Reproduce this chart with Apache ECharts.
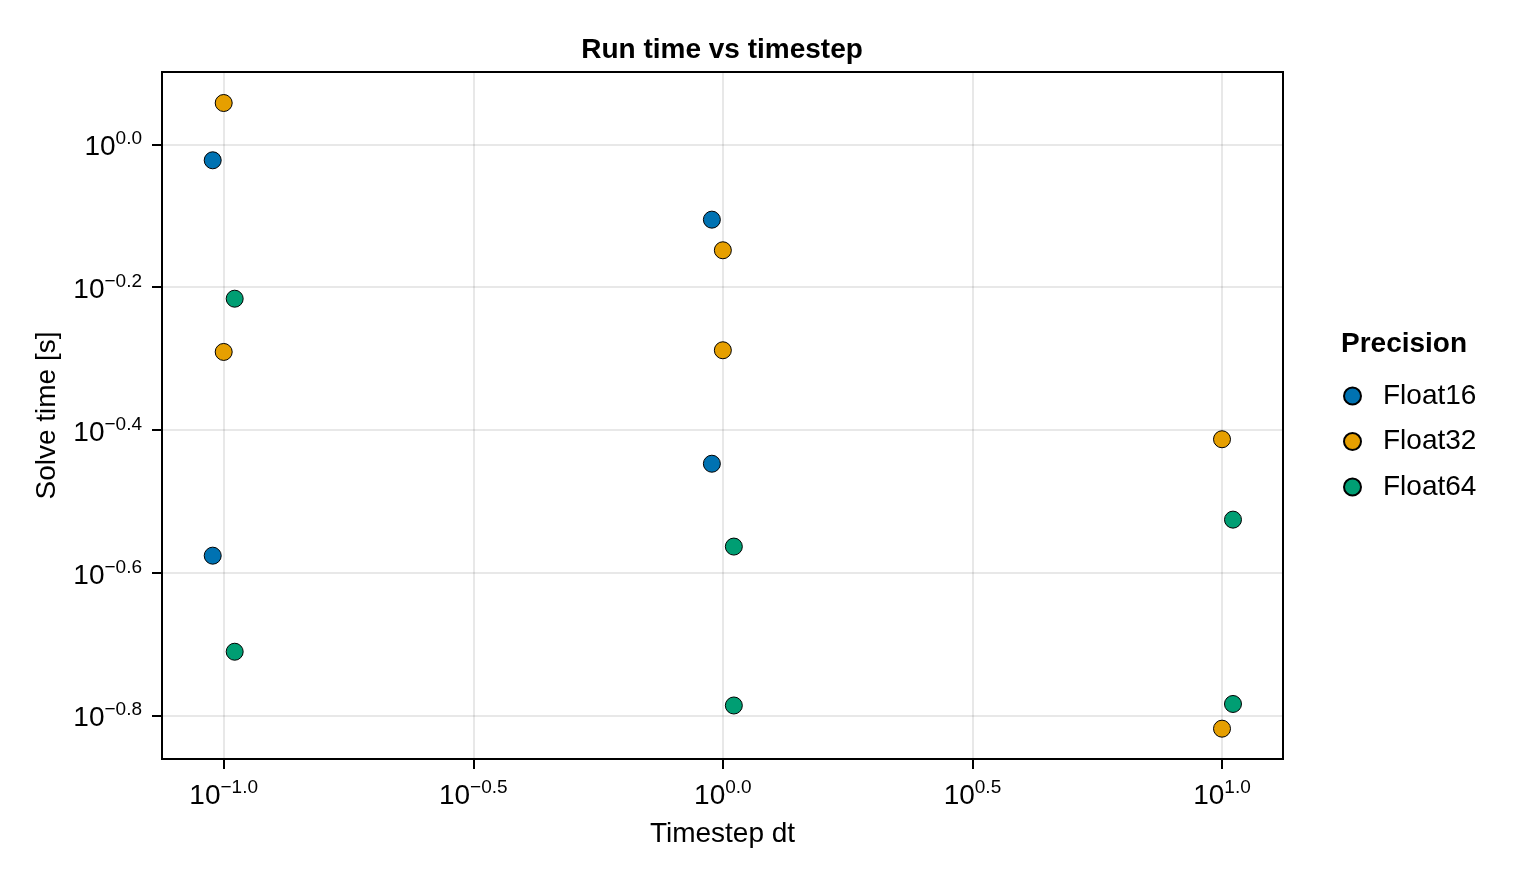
<!DOCTYPE html>
<html lang="en">
<head>
    <meta charset="UTF-8">
    <title>Run time vs timestep</title>
</head>
<body style="margin:0">
<div id="container" style="width: 1520px;height:880px;"></div>

<script src="https://cdn.jsdelivr.net/npm/echarts@6/dist/echarts.min.js"></script>
<script type="text/javascript">

// timestep values (s) and the read-off solve times, two runs per timestep
var timesteps = [0.1, 1, 10];
var float16Dt = [0.1, 0.1, 1, 1];
var float16Time = [0.9497, 0.2655, 0.7843, 0.3571];
var float32Dt = [0.1, 0.1, 1, 1, 10, 10];
var float32Time = [1.1423, 0.5120, 0.7106, 0.5148, 0.3864, 0.1520];
var float64Dt = [0.1, 0.1, 1, 1, 10, 10];
var float64Time = [0.6079, 0.1948, 0.2734, 0.1638, 0.2982, 0.1646];

var seriesNames = ['Float16', 'Float32', 'Float64'];
var xTickExp = [-1.0, -0.5, 0.0, 0.5, 1.0];
var yTickExp = [0.0, -0.2, -0.4, -0.6, -0.8];

var colors = ['#0072B2', '#E69F00', '#009E73'];
var font = 'Liberation Sans';

// dodge the groups sideways a little (in decades), like the original
var dodge = [-0.022, 0, 0.022];

function pairs(dt, t, k) {
  var out = [];
  for (var i = 0; i < dt.length; i++) {
    out.push([dt[i] * Math.pow(10, dodge[k]), t[i]]);
  }
  return out;
}

// 10^x style tick labels
function powLabel(v) {
  var e = Math.log10(v);
  if (Math.abs(e) < 1e-9) e = 0;
  var s = (e < 0 ? '\u2212' : '') + Math.abs(e).toFixed(1);
  return '{b|10}{s|' + s + '}';
}

var labelRich = {
  b: {fontFamily: font, fontSize: 28, lineHeight: 36, color: '#000'},
  s: {fontFamily: font, fontSize: 19, lineHeight: 19, verticalAlign: 'top', color: '#000'}
};

var xTicks = xTickExp.map(function (e) { return Math.pow(10, e); });
var yTicks = yTickExp.map(function (e) { return Math.pow(10, e); });

var rawData = [[float16Dt, float16Time], [float32Dt, float32Time], [float64Dt, float64Time]];
var series = [];
for (var k = 0; k < seriesNames.length; k++) {
  series.push({
    name: seriesNames[k],
    type: 'scatter',
    symbol: 'circle',
    symbolSize: 17,
    itemStyle: {color: colors[k], borderColor: '#000', borderWidth: 1, opacity: 1},
    data: pairs(rawData[k][0], rawData[k][1], k)
  });
}

var dom = document.getElementById('container');
var myChart = echarts.init(dom);
var option = {
  animation: false,
  backgroundColor: '#fff',
  title: [
    {
      text: 'Run time vs timestep',
      left: 722,
      textAlign: 'center',
      top: 36,
      padding: 0,
      textStyle: {fontFamily: font, fontSize: 28, fontWeight: 'bold', color: '#000'}
    },
    {
      text: 'Precision',
      left: 1341,
      top: 330,
      padding: 0,
      textStyle: {fontFamily: font, fontSize: 28, fontWeight: 'bold', color: '#000'}
    }
  ],
  legend: {
    orient: 'vertical',
    left: 1343,
    top: 381,
    padding: 0,
    itemWidth: 17,
    itemHeight: 17,
    itemGap: 15.5,
    icon: 'circle',
    data: seriesNames,
    textStyle: {fontFamily: font, fontSize: 28, lineHeight: 30, color: '#000', padding: [0, 0, 0, 17]}
  },
  grid: {
    left: 162,
    right: 237,
    top: 72,
    bottom: 121,
    show: true,
    borderColor: '#000',
    borderWidth: 2,
    containLabel: false
  },
  xAxis: {
    type: 'log',
    logBase: 10,
    min: Math.pow(10, -1.1236),
    max: Math.pow(10, 1.1222),
    name: 'Timestep dt',
    nameLocation: 'middle',
    nameGap: 61,
    nameTextStyle: {fontFamily: font, fontSize: 28, color: '#000'},
    axisLine: {lineStyle: {color: '#000', width: 2}},
    axisTick: {show: true, length: 10, lineStyle: {color: '#000', width: 2}, customValues: xTicks},
    axisLabel: {margin: 19, formatter: powLabel, rich: labelRich, customValues: xTicks},
    splitLine: {show: true, lineStyle: {color: 'rgba(0,0,0,0.12)', width: 1.5}},
    minorTick: {show: false},
    minorSplitLine: {show: false}
  },
  yAxis: {
    type: 'log',
    logBase: 10,
    min: Math.pow(10, -0.8606),
    max: Math.pow(10, 0.1012),
    name: 'Solve time [s]',
    nameLocation: 'middle',
    nameRotate: 90,
    nameGap: 101,
    nameTextStyle: {fontFamily: font, fontSize: 28, color: '#000'},
    axisLine: {show: true, lineStyle: {color: '#000', width: 2}},
    axisTick: {show: true, length: 10, lineStyle: {color: '#000', width: 2}, customValues: yTicks},
    axisLabel: {margin: 20, padding: [6, 0, 0, 0], formatter: powLabel, rich: labelRich, customValues: yTicks},
    splitLine: {show: true, lineStyle: {color: 'rgba(0,0,0,0.12)', width: 1.5}},
    minorTick: {show: false},
    minorSplitLine: {show: false}
  },
  series: series
};

myChart.setOption(option);
</script>
</body>
</html>
